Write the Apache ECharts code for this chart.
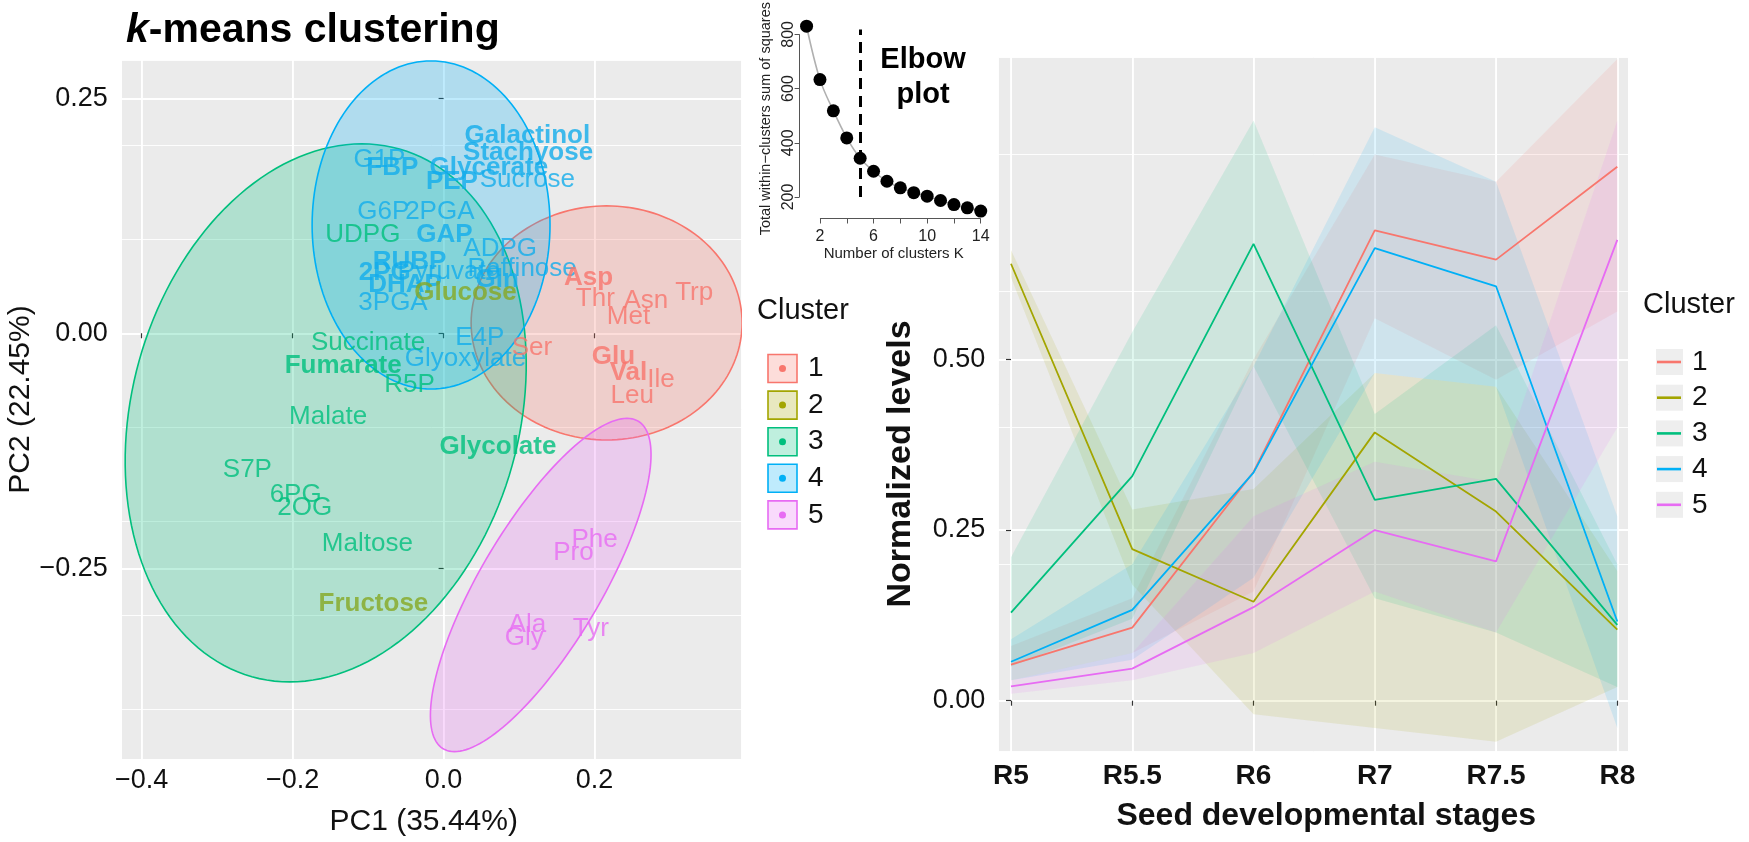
<!DOCTYPE html>
<html><head><meta charset="utf-8">
<script src="https://cdn.jsdelivr.net/npm/echarts@6/dist/echarts.min.js"></script>
<style>html,body{margin:0;padding:0;background:#fff}#c{width:1749px;height:842px}</style>
</head><body><div id="c"></div>
<script>
const FONT = '"Liberation Sans", Arial, Helvetica, sans-serif';
const clusterNames = ['1', '2', '3', '4', '5'];
const clusterColors = ['#F8766D', '#A3A500', '#00BF7D', '#00B0F6', '#E76BF3'];
const labelColors = ['#F8766D', '#86A822', '#00BF7D', '#13ADEB', '#E76BF3'];

// ---------- PCA (k-means) ----------
const metabolites = ['Galactinol','Stachyose','G1P','FBP','Glycerate','PEP','Sucrose','G6P','2PGA','UDPG','GAP','ADPG','RUBP','Raffinose','Pyruvate','2PG','DHAP','Gln','3PGA','Glucose','E4P','Glyoxylate','Succinate','Fumarate','R5P','Ser','Asp','Thr','Asn','Trp','Met','Glu','Val','Ile','Leu','Glycolate','Malate','S7P','6PG','2OG','Maltose','Fructose','Phe','Pro','Ala','Gly','Tyr'];
const pc1 = [0.111,0.112,-0.085,-0.068,0.060,0.011,0.111,-0.080,-0.005,-0.107,0.001,0.075,-0.045,0.104,0.007,-0.078,-0.051,0.071,-0.067,0.029,0.048,0.029,-0.100,-0.133,-0.045,0.117,0.192,0.201,0.268,0.332,0.245,0.225,0.245,0.288,0.250,0.072,-0.153,-0.260,-0.196,-0.184,-0.101,-0.093,0.200,0.172,0.111,0.107,0.195];
const pc2 = [0.210,0.192,0.185,0.176,0.176,0.161,0.163,0.129,0.129,0.105,0.105,0.090,0.076,0.069,0.065,0.064,0.051,0.057,0.032,0.043,-0.005,-0.027,-0.010,-0.035,-0.055,-0.016,0.059,0.037,0.035,0.043,0.017,-0.025,-0.042,-0.050,-0.067,-0.121,-0.089,-0.145,-0.172,-0.186,-0.224,-0.288,-0.220,-0.234,-0.310,-0.324,-0.314];
const metaboliteCluster = [4,4,4,4,4,4,4,4,4,3,4,4,4,4,4,4,4,4,4,2,4,4,3,3,3,1,1,1,1,1,1,1,1,1,1,3,3,3,3,3,3,2,5,5,5,5,5];
const boldMetabolites = ['Galactinol','Stachyose','FBP','Glycerate','PEP','GAP','RUBP','2PG','DHAP','Gln','Glucose','Fumarate','Asp','Glu','Val','Glycolate','Fructose'];

// confidence ellipses per cluster: centre and two conjugate semi-axes (data units); cluster 2 has none
const ellipseCluster = [1, 3, 4, 5];
const ellipseCx = [0.216, -0.1562, -0.0166, 0.1287];
const ellipseCy = [0.011, -0.0847, 0.1152, -0.2678];
const ellipseUx = [0, 0.0477, 0, 0.1143];
const ellipseUy = [0.1245, 0.2862, 0.1745, 0.1773];
const ellipseVx = [0.1795, 0.2614, 0.1576, 0.0911];
const ellipseVy = [0, 0, 0, 0];

const pcaXMajor = [-0.4, -0.2, 0, 0.2];
const pcaXMinor = [-0.3, -0.1, 0.1, 0.3];
const pcaYMajor = [-0.25, 0, 0.25];
const pcaYMinor = [-0.375, -0.125, 0.125];

// ---------- Normalized levels ----------
const stages = ['R5', 'R5.5', 'R6', 'R7', 'R7.5', 'R8'];
const mean1 = [0.053, 0.107, 0.335, 0.689, 0.646, 0.782];
const mean2 = [0.640, 0.222, 0.145, 0.393, 0.277, 0.104];
const mean3 = [0.129, 0.329, 0.669, 0.294, 0.325, 0.111];
const mean4 = [0.057, 0.133, 0.334, 0.663, 0.607, 0.116];
const mean5 = [0.021, 0.047, 0.137, 0.250, 0.204, 0.675];
const lower1 = [0.03, 0.07, 0.16, 0.56, 0.47, 0.57];
const upper1 = [0.08, 0.15, 0.50, 0.80, 0.76, 0.94];
const lower2 = [0.62, 0.17, -0.02, -0.04, -0.06, 0.02];
const upper2 = [0.66, 0.28, 0.31, 0.48, 0.46, 0.19];
const lower3 = [0.05, 0.12, 0.49, 0.15, 0.10, 0.02];
const upper3 = [0.21, 0.54, 0.85, 0.42, 0.55, 0.20];
const lower4 = [0.03, 0.06, 0.18, 0.48, 0.46, -0.04];
const upper4 = [0.09, 0.20, 0.49, 0.84, 0.76, 0.27];
const lower5 = [0.01, 0.03, 0.07, 0.16, 0.10, 0.40];
const upper5 = [0.03, 0.07, 0.27, 0.35, 0.32, 0.85];
const stageMajor = [0, 1, 2, 3, 4, 5];
const stageMinor = [0.5, 1.5, 2.5, 3.5, 4.5];
const levelGrid = [0, 0.25, 0.5, 0.75];
const levelLabels = [0, 0.25, 0.5];
const levelMinor = [0.125, 0.375, 0.625, 0.875];

// ---------- Elbow plot ----------
const kValues = [1,2,3,4,5,6,7,8,9,10,11,12,13,14];
const wss = [830, 633, 518, 418, 343, 295, 258, 234, 216, 203, 187, 172, 160, 148];
const elbowK = 5;
const elbowXTicks = [2,4,6,8,10,12,14];
const elbowXLabels = [2,6,10,14];
const elbowYTicks = [200,400,600,800];

const means = [mean1, mean2, mean3, mean4, mean5];
const lowers = [lower1, lower2, lower3, lower4, lower5];
const uppers = [upper1, upper2, upper3, upper4, upper5];

function rgba(hex, a) {
  const n = parseInt(hex.slice(1), 16);
  return 'rgba(' + (n >> 16 & 255) + ',' + (n >> 8 & 255) + ',' + (n & 255) + ',' + a + ')';
}
function signed(v, d) { return (v < 0 ? '\u2212' : '') + Math.abs(v).toFixed(d); }

const PCA_X = [-0.4265, 0.395], PCA_Y = [-0.4529, 0.2907];
const ST_X = [-0.1047, 5.0907], ST_Y = [-0.0747, 0.9424];
const EL_X = [0.48, 14.52], EL_Y = [120.7, 857.3];

function gridAxis(gridIndex, range, ticks, extra) {
  return Object.assign({
    type: 'value', gridIndex: gridIndex, min: range[0], max: range[1],
    axisLine: { show: false },
    axisTick: { show: false },
    axisLabel: { show: false },
    splitLine: { show: true, customValues: ticks, lineStyle: { color: '#ffffff', width: 0.9 } }
  }, extra || {});
}

const tickStyle = { color: '#333333', width: 1.2 };

const xAxes = [
  gridAxis(0, PCA_X, pcaXMajor, {
    axisTick: { show: true, customValues: pcaXMajor, length: 5, lineStyle: tickStyle },
    axisLabel: { show: true, customValues: pcaXMajor, formatter: v => signed(v, 1), fontSize: 27, color: '#111', fontFamily: FONT, margin: 8 },
    splitLine: { show: true, customValues: pcaXMajor, lineStyle: { color: '#ffffff', width: 1.8 } },
    name: 'PC1 (35.44%)', nameLocation: 'middle', nameGap: 48,
    nameTextStyle: { fontSize: 30, color: '#111', fontFamily: FONT, padding: [0, 16, 0, 0] }
  }),
  gridAxis(0, PCA_X, pcaXMinor),
  gridAxis(1, ST_X, stageMajor, {
    axisTick: { show: true, customValues: stageMajor, length: 5, lineStyle: tickStyle },
    axisLabel: { show: true, customValues: stageMajor, formatter: v => stages[Math.round(v)], fontSize: 28, fontWeight: 'bold', color: '#111', fontFamily: FONT, margin: 11 },
    splitLine: { show: true, customValues: stageMajor, lineStyle: { color: '#ffffff', width: 1.8 } },
    name: 'Seed developmental stages', nameLocation: 'middle', nameGap: 48,
    nameTextStyle: { fontSize: 32, fontWeight: 'bold', color: '#111', fontFamily: FONT, padding: [0, 0, 0, 26] }
  }),
  gridAxis(1, ST_X, stageMinor),
  {
    type: 'value', gridIndex: 2, min: EL_X[0], max: EL_X[1],
    axisLine: { show: false },
    axisTick: { show: true, customValues: elbowXTicks, length: 5, lineStyle: { color: '#555', width: 1 } },
    axisLabel: { show: true, customValues: elbowXLabels, fontSize: 16, color: '#222', fontFamily: FONT, margin: 10 },
    splitLine: { show: false },
    name: 'Number of clusters K', nameLocation: 'middle', nameGap: 28,
    nameTextStyle: { fontSize: 15, color: '#222', fontFamily: FONT }
  }
];

const yAxes = [
  gridAxis(0, PCA_Y, pcaYMajor, {
    axisTick: { show: true, customValues: pcaYMajor, length: 5, lineStyle: tickStyle },
    axisLabel: { show: true, customValues: pcaYMajor, formatter: v => signed(v, 2), fontSize: 27, color: '#111', fontFamily: FONT, margin: 14 },
    splitLine: { show: true, customValues: pcaYMajor, lineStyle: { color: '#ffffff', width: 1.8 } },
    name: 'PC2 (22.45%)', nameLocation: 'middle', nameGap: 77,
    nameTextStyle: { fontSize: 30, color: '#111', fontFamily: FONT, padding: [0, 0, 0, 20] }
  }),
  gridAxis(0, PCA_Y, pcaYMinor),
  gridAxis(1, ST_Y, levelGrid, {
    axisTick: { show: true, customValues: levelLabels, length: 5, lineStyle: tickStyle },
    axisLabel: { show: true, customValues: levelLabels, formatter: v => v.toFixed(2), fontSize: 27, color: '#111', fontFamily: FONT, margin: 13 },
    splitLine: { show: true, customValues: levelGrid, lineStyle: { color: '#ffffff', width: 1.8 } },
    name: 'Normalized levels', nameLocation: 'middle', nameGap: 81,
    nameTextStyle: { fontSize: 34, fontWeight: 'bold', color: '#111', fontFamily: FONT, padding: [0, 119, 0, 0] }
  }),
  gridAxis(1, ST_Y, levelMinor),
  {
    type: 'value', gridIndex: 2, min: EL_Y[0], max: EL_Y[1],
    axisLine: { show: false },
    axisTick: { show: true, customValues: elbowYTicks, length: 5, lineStyle: { color: '#555', width: 1 } },
    axisLabel: { show: true, customValues: elbowYTicks, rotate: 90, fontSize: 16, color: '#222', fontFamily: FONT, margin: 3 },
    splitLine: { show: false },
    name: 'Total within\u2212clusters sum of squares', nameLocation: 'middle', nameGap: 26,
    nameTextStyle: { fontSize: 14.5, color: '#222', fontFamily: FONT }
  }
];

// label points
const labelData = metabolites.map((m, i) => {
  const k = metaboliteCluster[i];
  return {
    name: m, value: [pc1[i], pc2[i]],
    label: { color: labelColors[k - 1], fontWeight: boldMetabolites.indexOf(m) >= 0 ? 'bold' : 'normal' }
  };
});

const ellipseData = ellipseCluster.map((k, i) => [ellipseCx[i], ellipseCy[i], ellipseUx[i], ellipseUy[i], ellipseVx[i], ellipseVy[i], k]);

const series = [];
series.push({
  type: 'custom', name: 'ellipses', xAxisIndex: 0, yAxisIndex: 0, clip: true, z: 2,
  data: ellipseData, encode: { x: 0, y: 1 },
  renderItem: function (params, api) {
    const cx = api.value(0), cy = api.value(1), ux = api.value(2), uy = api.value(3), vx = api.value(4), vy = api.value(5), k = api.value(6);
    const pts = [];
    for (let s = 0; s < 160; s++) {
      const t = s / 160 * 2 * Math.PI;
      pts.push(api.coord([cx + ux * Math.cos(t) + vx * Math.sin(t), cy + uy * Math.cos(t) + vy * Math.sin(t)]));
    }
    const col = clusterColors[k - 1];
    return { type: 'polygon', shape: { points: pts }, style: { fill: rgba(col, 0.25), stroke: col, lineWidth: 1.6 } };
  }
});
series.push({
  type: 'scatter', name: 'metabolites', xAxisIndex: 0, yAxisIndex: 0, z: 5,
  symbolSize: 0, data: labelData, silent: true,
  label: { show: true, position: 'inside', formatter: '{b}', fontSize: 26, fontFamily: FONT }
});

// ribbons
for (let k = 0; k < 5; k++) {
  const lo = lowers[k], hi = uppers[k];
  series.push({
    type: 'custom', name: 'band ' + clusterNames[k], xAxisIndex: 2, yAxisIndex: 2, z: 2, silent: true,
    data: stages.map((s, i) => [i, lo[i], hi[i]]), encode: { x: 0, y: [1, 2] },
    renderItem: function (params, api) {
      if (params.dataIndex !== 0) return null;
      const pts = [];
      for (let i = 0; i < stages.length; i++) pts.push(api.coord([i, hi[i]]));
      for (let i = stages.length - 1; i >= 0; i--) pts.push(api.coord([i, lo[i]]));
      return { type: 'polygon', shape: { points: pts }, style: { fill: rgba(clusterColors[k], 0.12) } };
    }
  });
}
for (let k = 0; k < 5; k++) {
  series.push({
    type: 'line', name: clusterNames[k], xAxisIndex: 2, yAxisIndex: 2, z: 4,
    data: means[k].map((v, i) => [i, v]), showSymbol: false, symbol: 'none',
    lineStyle: { color: clusterColors[k], width: 1.8 }, itemStyle: { color: clusterColors[k] }
  });
}
// elbow
series.push({
  type: 'line', name: 'elbow', xAxisIndex: 4, yAxisIndex: 4, z: 4,
  data: kValues.map((k, i) => [k, wss[i]]), smooth: 0.35,
  symbol: 'circle', symbolSize: 13, itemStyle: { color: '#000' },
  lineStyle: { color: '#b0b0b0', width: 1.6 },
  markLine: {
    silent: true, symbol: 'none', label: { show: false },
    data: [
      [{ coord: [elbowK, 200], lineStyle: { type: [11, 7], color: '#000', width: 3 } }, { coord: [elbowK, 818] }],
      [{ coord: [elbowXTicks[0], EL_Y[0]], lineStyle: { type: 'solid', color: '#555', width: 1 } }, { coord: [elbowXTicks[elbowXTicks.length - 1], EL_Y[0]] }],
      [{ coord: [EL_X[0], elbowYTicks[0]], lineStyle: { type: 'solid', color: '#555', width: 1 } }, { coord: [EL_X[0], elbowYTicks[elbowYTicks.length - 1]] }]
    ]
  }
});

// legends drawn as graphics
const graphics = [];
graphics.push({ type: 'text', x: 757, y: 311, style: { text: 'Cluster', font: '29px ' + FONT, fill: '#111', verticalAlign: 'middle' } });
graphics.push({ type: 'text', x: 1643, y: 305, style: { text: 'Cluster', font: '29px ' + FONT, fill: '#111', verticalAlign: 'middle' } });
for (let k = 0; k < 5; k++) {
  const cy = 368.5 + k * 36.6;
  graphics.push({ type: 'rect', shape: { x: 768, y: cy - 14, width: 29, height: 28 }, style: { fill: rgba(clusterColors[k], 0.25), stroke: clusterColors[k], lineWidth: 1.6 } });
  graphics.push({ type: 'circle', shape: { cx: 782.5, cy: cy, r: 3.5 }, style: { fill: clusterColors[k] } });
  graphics.push({ type: 'text', x: 808, y: cy, style: { text: clusterNames[k], font: '28px ' + FONT, fill: '#111', verticalAlign: 'middle' } });
  const ry = 362 + k * 35.7;
  graphics.push({ type: 'rect', z: -1, shape: { x: 1656, y: ry - 13, width: 27, height: 26 }, style: { fill: '#EEEEEE' } });
}

const option = {
  animation: false,
  backgroundColor: '#ffffff',
  textStyle: { fontFamily: FONT },
  title: [
    {
      left: 121, top: 5,
      text: '{i|k}{b|-means clustering}',
      textStyle: { rich: {
        i: { fontSize: 41, fontWeight: 'bold', fontStyle: 'italic', fontFamily: FONT, color: '#000' },
        b: { fontSize: 41, fontWeight: 'bold', fontFamily: FONT, color: '#000' }
      } }
    },
    {
      left: 918, top: 37, textAlign: 'center',
      text: 'Elbow\nplot',
      textStyle: { fontSize: 29, fontWeight: 'bold', fontFamily: FONT, color: '#000', lineHeight: 35, align: 'center' }
    }
  ],
  grid: [
    { left: 121.7, top: 60, width: 620, height: 699, show: true, backgroundColor: '#EBEBEB', borderWidth: 0, containLabel: false },
    { left: 998.3, top: 57.3, width: 630, height: 694.4, show: true, backgroundColor: '#EBEBEB', borderWidth: 0, containLabel: false },
    { left: 799.6, top: 15.9, width: 188.1, height: 202.6, show: false, containLabel: false }
  ],
  xAxis: xAxes,
  yAxis: yAxes,
  legend: {
    data: clusterNames, orient: 'vertical', left: 1657, top: 347, padding: 0,
    icon: 'rect', itemWidth: 24, itemHeight: 2.6, itemGap: 5.7, selectedMode: false,
    textStyle: { fontSize: 28, lineHeight: 30, color: '#111', fontFamily: FONT, padding: [0, 0, 0, 6] }
  },
  graphic: graphics,
  series: series
};

const chart = echarts.init(document.getElementById('c'), null, { renderer: 'canvas', width: 1749, height: 842 });
chart.setOption(option);
</script>
</body></html>
